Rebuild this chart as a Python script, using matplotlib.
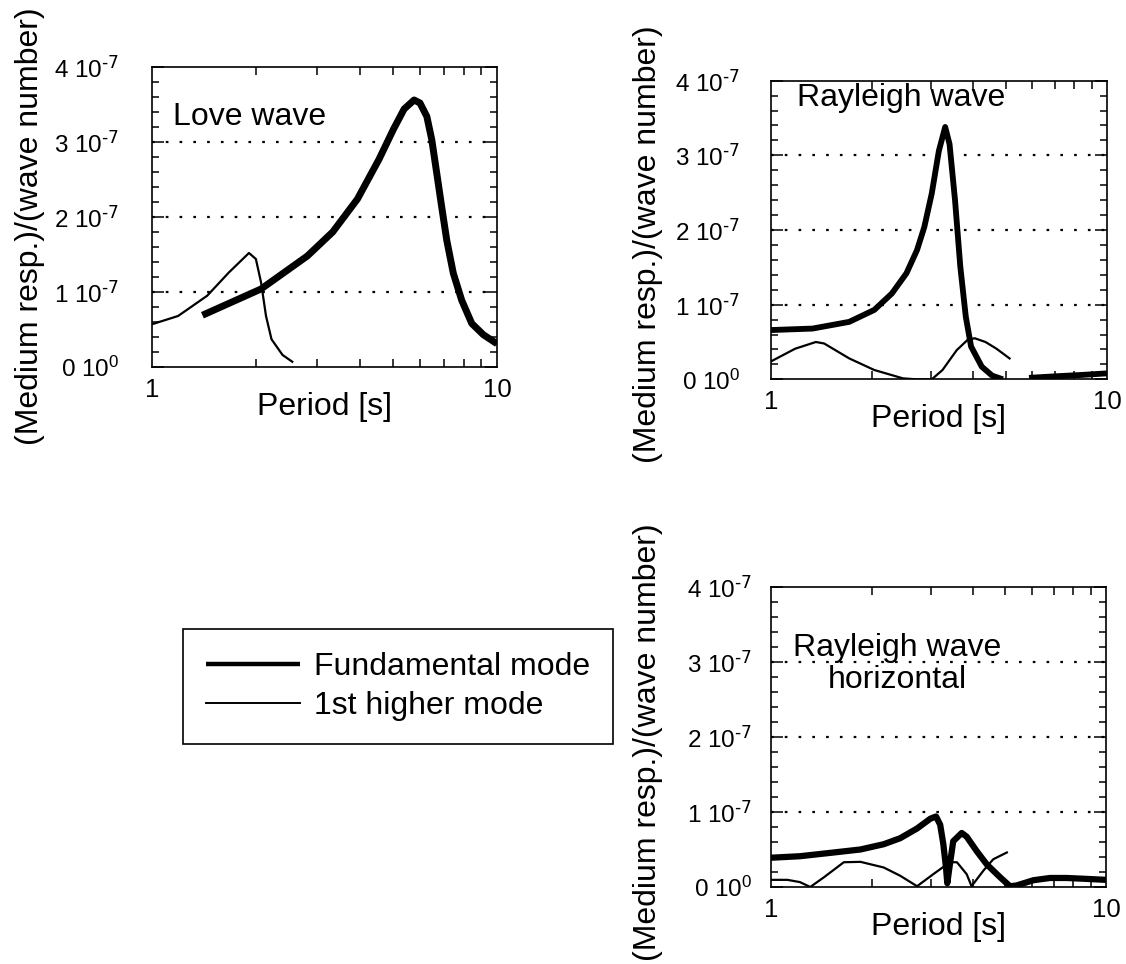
import numpy as np
import matplotlib.pyplot as plt
from matplotlib.ticker import MultipleLocator, FuncFormatter, FixedLocator, LogLocator, NullFormatter

plt.rcParams['font.family'] = ['Liberation Sans', 'DejaVu Sans']
plt.rcParams['mathtext.default'] = 'regular'

# Love wave (periods in s, response in units of 1e-7)
love_fund_T = [1.40, 2.07, 2.82, 3.34, 3.94, 4.55, 5.01, 5.38, 5.75, 5.98, 6.26, 6.47, 6.69, 6.91, 7.15, 7.47, 7.90, 8.45, 9.13, 10.0]
love_fund_R = [0.69, 1.04, 1.48, 1.80, 2.24, 2.77, 3.17, 3.44, 3.56, 3.52, 3.34, 3.03, 2.58, 2.14, 1.69, 1.25, 0.89, 0.58, 0.43, 0.31]
love_high_T = [1.00, 1.19, 1.445, 1.67, 1.91, 2.00, 2.07, 2.14, 2.22, 2.39, 2.55]
love_high_R = [0.57, 0.68, 0.95, 1.26, 1.52, 1.44, 1.13, 0.68, 0.37, 0.16, 0.07]

# Rayleigh wave, vertical
ray_fund_T = [1.00, 1.33, 1.71, 2.03, 2.29, 2.53, 2.72, 2.86, 3.01, 3.16, 3.30, 3.40, 3.53, 3.66, 3.80, 3.94, 4.24, 4.55, 4.90]
ray_fund_R = [0.66, 0.68, 0.77, 0.93, 1.15, 1.42, 1.73, 2.04, 2.49, 3.06, 3.38, 3.15, 2.40, 1.51, 0.84, 0.44, 0.17, 0.05, 0.00]
ray_tail_T = [5.86, 7.0, 8.5, 10.0]
ray_tail_R = [0.02, 0.04, 0.06, 0.08]
ray_high_T = [1.00, 1.18, 1.36, 1.44, 1.71, 2.03, 2.47, 2.72, 3.01, 3.24, 3.57, 3.85, 4.04, 4.35, 4.69, 5.13]
ray_high_R = [0.24, 0.41, 0.50, 0.48, 0.28, 0.125, 0.013, 0.0, 0.0, 0.125, 0.39, 0.53, 0.55, 0.50, 0.41, 0.28]

# Rayleigh wave, horizontal
rh_fund_T = [1.00, 1.22, 1.54, 1.85, 2.17, 2.43, 2.73, 2.99, 3.11, 3.20, 3.27, 3.33, 3.36, 3.42, 3.50, 3.71, 3.84, 4.11, 4.41, 4.83, 5.17, 5.41, 6.07, 6.81, 7.63, 8.56, 10.0]
rh_fund_R = [0.39, 0.41, 0.46, 0.50, 0.57, 0.65, 0.78, 0.91, 0.94, 0.83, 0.57, 0.26, 0.05, 0.30, 0.61, 0.72, 0.67, 0.48, 0.30, 0.13, 0.01, 0.02, 0.09, 0.12, 0.12, 0.11, 0.095]
rh_high_T = [1.00, 1.12, 1.22, 1.31, 1.44, 1.65, 1.85, 2.17, 2.43, 2.73, 3.05, 3.42, 3.59, 3.84, 3.97, 4.31, 4.61, 5.06]
rh_high_R = [0.095, 0.095, 0.065, 0.0, 0.13, 0.33, 0.335, 0.26, 0.15, 0.01, 0.17, 0.33, 0.33, 0.17, 0.01, 0.22, 0.37, 0.46]

scale = 1e-7
ylabel = "(Medium resp.)/(wave number)"
THIN = 1.6
FS = 23

fig = plt.figure(figsize=(11.26, 9.64), dpi=100)
ax_love = fig.add_axes([0.1350, 0.6193, 0.3064, 0.3112])
ax_ray = fig.add_axes([0.6847, 0.6065, 0.2984, 0.3098])
ax_rh = fig.add_axes([0.6847, 0.0799, 0.2975, 0.3112])


def y_fmt(v, pos):
    n = int(round(v / scale))
    if n == 0:
        return "0 10$^{0}$"
    return f"{n} 10$^{{\\text{{-7}}}}$"


def style(ax, label_xy, ypad):
    ax.set_xscale('log')
    ax.set_xlim(1, 10)
    ax.set_ylim(0, 4 * scale)
    ax.xaxis.set_major_locator(FixedLocator([1, 10]))
    ax.xaxis.set_major_formatter(FuncFormatter(lambda v, p: f"{v:g}"))
    ax.xaxis.set_minor_locator(LogLocator(base=10, subs=np.arange(2, 10)))
    ax.xaxis.set_minor_formatter(NullFormatter())
    ax.yaxis.set_major_locator(MultipleLocator(scale))
    ax.yaxis.set_minor_locator(MultipleLocator(0.2 * scale))
    ax.yaxis.set_major_formatter(FuncFormatter(y_fmt))
    ax.tick_params(which='both', direction='in', top=True, right=True, width=1.1)
    ax.tick_params(axis='y', which='major', length=8.5, pad=ypad, labelsize=17.5)
    ax.tick_params(axis='y', which='minor', length=5)
    ax.tick_params(axis='x', which='major', length=0, pad=8, labelsize=18.5)
    ax.tick_params(axis='x', which='minor', length=5.5)
    for s in ax.spines.values():
        s.set_linewidth(1.2)
    for g in (1, 2, 3):
        ax.axhline(g * scale, color='black', lw=1.6, ls=(0, (1.2, 5)), zorder=1)
    ax.set_xlabel("Period [s]", fontsize=FS)
    ax.xaxis.set_label_coords(0.5, -0.083)
    ax.set_ylabel(ylabel, fontsize=FS, va='center')
    ax.yaxis.set_label_coords(*label_xy)


# Love wave panel
ax_love.plot(love_fund_T, np.array(love_fund_R) * scale, color='black', lw=5.0, solid_capstyle='butt')
ax_love.plot(love_high_T, np.array(love_high_R) * scale, color='black', lw=THIN)
style(ax_love, (-0.355, 0.47), 23.8)
ax_love.text(0.061, 0.807, "Love wave", transform=ax_love.transAxes, fontsize=FS, va='baseline')

# Rayleigh wave panel
ax_ray.plot(ray_fund_T, np.array(ray_fund_R) * scale, color='black', lw=4.2, solid_capstyle='butt')
ax_ray.plot(ray_tail_T, np.array(ray_tail_R) * scale, color='black', lw=4.2, solid_capstyle='butt')
ax_ray.plot(ray_high_T, np.array(ray_high_R) * scale, color='black', lw=THIN)
style(ax_ray, (-0.366, 0.453), 22.4)
ax_ray.text(0.076, 0.915, "Rayleigh wave", transform=ax_ray.transAxes, fontsize=FS, va='baseline')

# Rayleigh wave, horizontal component
fund_line, = ax_rh.plot(rh_fund_T, np.array(rh_fund_R) * scale, color='black', lw=4.5,
                        solid_capstyle='butt', label="Fundamental mode")
high_line, = ax_rh.plot(rh_high_T, np.array(rh_high_R) * scale, color='black', lw=THIN,
                        label="1st higher mode")
style(ax_rh, (-0.367, 0.483), 13.8)
ax_rh.text(0.376, 0.845, "Rayleigh wave\nhorizontal", transform=ax_rh.transAxes, fontsize=FS,
           ha='center', va='top', multialignment='center', linespacing=1.08)

leg = fig.legend(handles=[fund_line, high_line], loc='upper left',
                 bbox_to_anchor=(183 / 1126, 1 - 629 / 964), fontsize=FS,
                 frameon=True, fancybox=False, edgecolor='black', framealpha=1,
                 borderpad=0.72, handlelength=2.95, handletextpad=0.43, labelspacing=0.28,
                 borderaxespad=0)
leg.get_frame().set_linewidth(1.2)
leg.get_lines()[0].set_linewidth(3.2)
leg.get_lines()[1].set_linewidth(1.4)

fig.savefig("out.png", dpi=100, facecolor='white')
